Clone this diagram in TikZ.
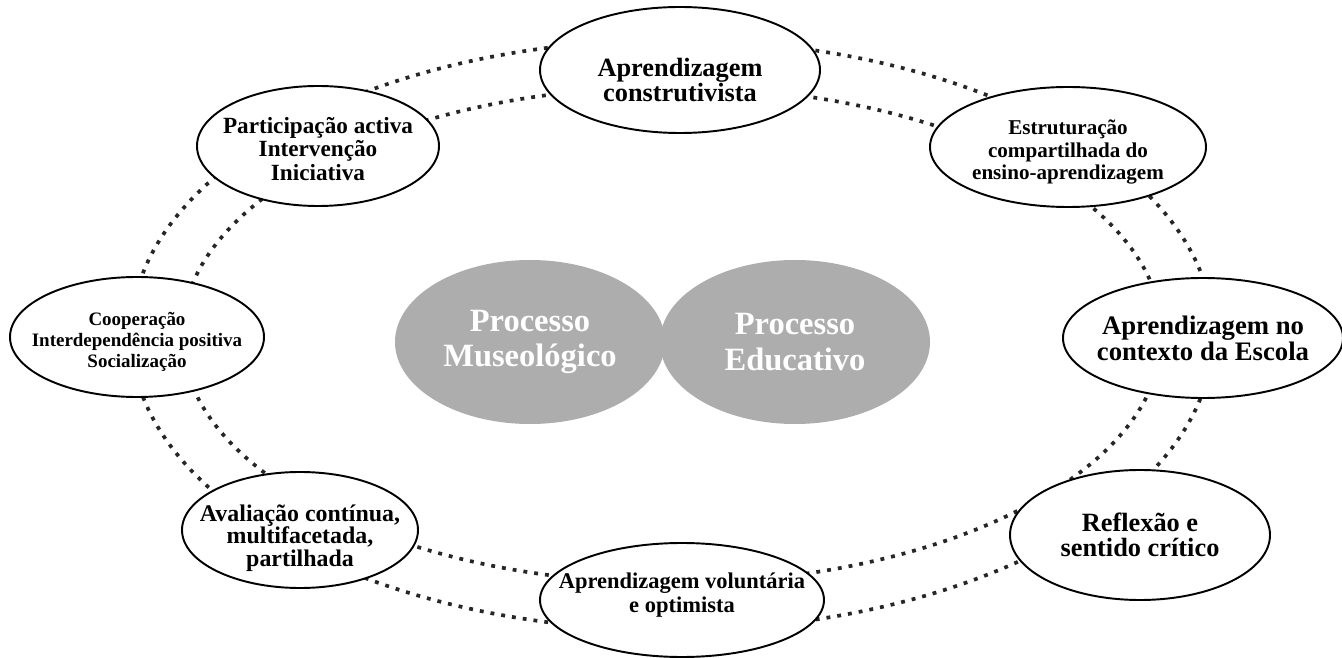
\documentclass[tikz,border=0pt]{standalone}
\usepackage{fontspec}
\setmainfont{Liberation Serif}
\usetikzlibrary{shapes}
\newcommand\pxu{*0.02cm}

\begin{document}
\begin{tikzpicture}[
    x=0.02cm, y=-0.02cm,
    bubble/.style={ellipse, draw, line width=1.1pt, fill=white, inner sep=0pt},
    cloud/.style={ellipse, fill=black!32, inner sep=0pt, minimum width=270\pxu, minimum height=164\pxu},
    ring/.style={line width=2.1pt, black!85, dash pattern=on 2.2pt off 4pt},
    txt/.style={align=center, font=\bfseries\fontsize{#1}{#1}\selectfont}
]
\useasboundingbox (0,0) rectangle (1342,658);

% two dotted rings
\draw[ring] (672,335) ellipse [x radius=541, y radius=295];
\draw[ring] (672,335) ellipse [x radius=490, y radius=248];

% centre
\node[cloud] (museo) at (530,342) {};
\node[cloud] (educ) at (795,342) {};
\node[align=center, text=white, font=\bfseries\fontsize{18.5}{20}\selectfont] (museo-t) at (museo) {Processo\\Museológico};
\node[align=center, text=white, font=\bfseries\fontsize{18.5}{20}\selectfont] (educ-t) at (educ) {Processo\\Educativo};

% ring of ellipses
\node[bubble, minimum width=280\pxu, minimum height=126\pxu] (constr) at (680,70) {};
\node[bubble, minimum width=276\pxu, minimum height=120\pxu] (estrut) at (1068,147) {};
\node[bubble, minimum width=242\pxu, minimum height=120\pxu] (partic) at (318,146) {};
\node[bubble, minimum width=254\pxu, minimum height=120\pxu] (coop) at (137,337) {};
\node[bubble, minimum width=280\pxu, minimum height=120\pxu] (contexto) at (1203,338) {};
\node[bubble, minimum width=260\pxu, minimum height=130\pxu] (reflex) at (1140,535) {};
\node[bubble, minimum width=236\pxu, minimum height=116\pxu] (aval) at (300,530) {};
\node[bubble, minimum width=284\pxu, minimum height=114\pxu] (volunt) at (682,600) {};

\node[txt=15, font=\bfseries\fontsize{15}{13}\selectfont] (constr-t) at ([yshift=-10\pxu]constr) {Aprendizagem\\construtivista};
\node[txt=12, font=\bfseries\fontsize{12}{12.8}\selectfont] (estrut-t) at ([yshift=-5\pxu]estrut) {Estruturação\\compartilhada do\\ensino-aprendizagem};
\node[txt=13, font=\bfseries\fontsize{13.2}{13.4}\selectfont] (partic-t) at ([yshift=-3\pxu]partic) {Participação activa\\Intervenção\\Iniciativa};
\node[txt=11, font=\bfseries\fontsize{10.8}{12}\selectfont] (coop-t) at ([yshift=-5\pxu]coop) {Cooperação\\Interdependência positiva\\Socialização};
\node[txt=15, font=\bfseries\fontsize{15.2}{12}\selectfont] (contexto-t) at (contexto) {Aprendizagem no\\contexto da Escola};
\node[txt=15, font=\bfseries\fontsize{15}{14}\selectfont] (reflex-t) at (reflex) {Reflexão e\\sentido crítico};
\node[txt=13, font=\bfseries\fontsize{13.6}{12.8}\selectfont] (aval-t) at ([yshift=-8\pxu]aval) {Avaliação contínua,\\multifacetada,\\partilhada};
\node[txt=13, font=\bfseries\fontsize{12.8}{13.6}\selectfont] (volunt-t) at ([yshift=5\pxu]volunt) {Aprendizagem voluntária\\e optimista};
\end{tikzpicture}
\end{document}
